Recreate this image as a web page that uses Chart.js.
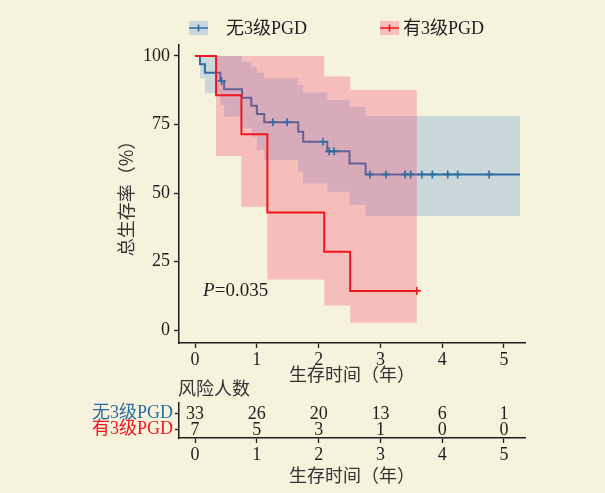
<!DOCTYPE html>
<html>
<head>
<meta charset="utf-8">
<script src="https://cdn.jsdelivr.net/npm/chart.js@4"></script>
<style>
  html, body { margin: 0; padding: 0; background: #f5f3dc; }
  #wrap { position: relative; width: 605px; height: 493px; overflow: hidden; }
  #km { position: absolute; left: 0; top: 0; }
  #risk { position: absolute; left: 0; top: 378px; }
</style>
</head>
<body>
<div id="wrap">
  <canvas id="km" width="605" height="385"></canvas>
  <canvas id="risk" width="605" height="115"></canvas>
</div>
<script>
// groups
const groups = ['无3级PGD', '有3级PGD'];

// no grade-3 PGD: step times (years), survival %, 95% CI
const blueTimes = [0, 0.08, 0.16, 0.41, 0.47, 0.76, 0.91, 1.0, 1.12, 1.67, 1.75, 2.14, 2.5, 2.76, 5.26];
const blueSurv  = [100, 97.0, 93.9, 90.9, 87.9, 84.8, 81.8, 78.8, 75.8, 72.4, 68.7, 65.2, 60.8, 56.8, 56.8];
const blueLower = [100, 91.9, 86.4, 82.1, 77.9, 73.6, 70.5, 65.7, 62.0, 57.8, 53.5, 50.5, 45.6, 41.6, 41.6];
const blueUpper = [100, 100, 100, 100, 100, 97.9, 96.1, 93.9, 91.8, 89.4, 86.7, 83.9, 81.5, 78.1, 78.1];
const blueCensorT = [0.43, 1.26, 1.49, 2.07, 2.17, 2.25, 2.83, 3.09, 3.4, 3.49, 3.67, 3.84, 4.09, 4.25, 4.76];
const blueCensorS = [90.9, 75.8, 75.8, 68.7, 65.2, 65.2, 56.8, 56.8, 56.8, 56.8, 56.8, 56.8, 56.8, 56.8, 56.8];

// grade-3 PGD
const redTimes = [0, 0.34, 0.75, 1.17, 2.09, 2.51, 3.59];
const redSurv  = [100, 85.7, 71.4, 42.9, 28.6, 14.3, 14.3];
const redLower = [100, 63.5, 45.0, 18.5, 9.0, 2.7, 2.7];
const redUpper = [100, 100, 100, 100, 92.5, 87.6, 87.6];
const redCensorT = [3.59];
const redCensorS = [14.3];

const xTicks = [0, 1, 2, 3, 4, 5];
const yTicks = [0, 25, 50, 75, 100];

// number at risk
const riskTimes = [0, 1, 2, 3, 4, 5];
const riskNo  = [33, 26, 20, 13, 6, 1];
const riskYes = [7, 5, 3, 1, 0, 0];

const pText = '=0.035';
const pPos = { x: 0.13, y: 14.3 };

const BLUE = '#2c6ca4';
const RED = '#f2141e';
const BLUE_FILL = 'rgba(80,135,215,0.26)';
const RED_FILL = 'rgba(245,70,110,0.30)';
const INK = '#1e1e1e';
const GREY = '#333333';
const SERIF = '"Liberation Serif", "Noto Sans CJK SC", serif';
const CJK = '"Noto Sans CJK SC", "Liberation Serif", sans-serif';
const CJK_TITLE = '"Noto Sans CJK KR", "Noto Sans CJK SC", sans-serif';

const pts = (xs, ys) => xs.map((x, i) => ({ x, y: ys[i] }));

function band(times, lo, hi, color, order) {
  return [
    { data: pts(times, lo), borderWidth: 0, pointRadius: 0, stepped: 'before', fill: false, order },
    { data: pts(times, hi), borderWidth: 0, pointRadius: 0, stepped: 'before', fill: '-1', backgroundColor: color, order }
  ];
}
function curve(times, surv, color, order) {
  return { data: pts(times, surv), borderColor: color, borderWidth: 2, pointRadius: 0, stepped: 'before', fill: false, order };
}
function censors(t, s, color) {
  return { data: pts(t, s), showLine: false, pointStyle: 'cross', pointRadius: 4, borderColor: color, borderWidth: 1.6, order: 1 };
}

const kmDecor = {
  id: 'kmDecor',
  afterDraw(chart) {
    const { ctx, scales: { x, y } } = chart;
    ctx.save();
    // legend
    const keys = [{ box: 189, text: 226, line: BLUE, fill: BLUE_FILL }, { box: 380, text: 403, line: RED, fill: RED_FILL }];
    keys.forEach((k, i) => {
      ctx.fillStyle = k.fill;
      ctx.fillRect(k.box, 21, 19, 14);
      ctx.strokeStyle = k.line;
      ctx.lineWidth = 1.6;
      ctx.beginPath();
      ctx.moveTo(k.box, 28); ctx.lineTo(k.box + 19, 28);
      ctx.moveTo(k.box + 9.5, 24.5); ctx.lineTo(k.box + 9.5, 31.5);
      ctx.stroke();
      ctx.fillStyle = INK;
      ctx.font = '18px ' + SERIF;
      ctx.textBaseline = 'middle';
      ctx.textAlign = 'left';
      ctx.fillText(groups[i], k.text, 29.5);
    });
    // p value
    const px = x.getPixelForValue(pPos.x), py = y.getPixelForValue(pPos.y);
    ctx.font = 'italic 19px ' + SERIF;
    ctx.fillStyle = INK;
    ctx.fillText('P', px, py);
    const w = ctx.measureText('P').width;
    ctx.font = '19px ' + SERIF;
    ctx.fillText(pText, px + w, py);
    ctx.restore();
  }
};

new Chart(document.getElementById('km'), {
  type: 'line',
  data: {
    datasets: [
      ...band(blueTimes, blueLower, blueUpper, BLUE_FILL, 10),
      curve(blueTimes, blueSurv, BLUE, 9),
      ...band(redTimes, redLower, redUpper, RED_FILL, 8),
      curve(redTimes, redSurv, RED, 7),
      censors(blueCensorT, blueCensorS, BLUE),
      censors(redCensorT, redCensorS, RED)
    ]
  },
  options: {
    responsive: false,
    animation: false,
    layout: { padding: { left: 115, top: 45, right: 80, bottom: 0 } },
    plugins: { legend: { display: false }, tooltip: { enabled: false } },
    scales: {
      x: {
        type: 'linear', min: -0.26, max: 5.34,
        afterBuildTicks: s => { s.ticks = xTicks.map(v => ({ value: v })); },
        afterFit: s => { s.height = 42; },
        grid: { drawOnChartArea: false, tickLength: 5, color: INK, tickWidth: 1.3 },
        border: { color: INK, width: 1.5 },
        ticks: { color: INK, font: { family: SERIF, size: 18 }, padding: 1, maxRotation: 0 },
        title: { display: true, text: '生存时间（年）', color: GREY, font: { family: CJK_TITLE, size: 18 }, padding: 0 }
      },
      y: {
        type: 'linear', min: -4.7, max: 104,
        afterBuildTicks: s => { s.ticks = yTicks.map(v => ({ value: v })); },
        afterFit: s => { s.width = 64; },
        grid: { drawOnChartArea: false, tickLength: 5, color: INK, tickWidth: 1.3 },
        border: { color: INK, width: 1.5 },
        ticks: { color: INK, font: { family: SERIF, size: 18 }, padding: 4 },
        title: { display: true, text: '总生存率（%）', color: GREY, font: { family: CJK_TITLE, size: 18 }, padding: 0 }
      }
    }
  },
  plugins: [kmDecor]
});

const riskDecor = {
  id: 'riskDecor',
  afterDraw(chart) {
    const { ctx, chartArea } = chart;
    ctx.save();
    ctx.font = '18px ' + CJK;
    ctx.fillStyle = GREY;
    ctx.textAlign = 'left';
    ctx.textBaseline = 'middle';
    ctx.fillText('风险人数', chartArea.left - 1, 10);
    ctx.font = '18px ' + SERIF;
    ctx.fillStyle = INK;
    ctx.textAlign = 'center';
    [riskNo, riskYes].forEach((vals, d) => {
      chart.getDatasetMeta(d).data.forEach((pt, i) => {
        ctx.fillText(String(vals[i]), pt.x, pt.y + 1);
      });
    });
    ctx.restore();
  }
};

new Chart(document.getElementById('risk'), {
  type: 'line',
  data: {
    datasets: [
      { data: pts(riskTimes, riskTimes.map(() => 2)), showLine: false, pointRadius: 0 },
      { data: pts(riskTimes, riskTimes.map(() => 1)), showLine: false, pointRadius: 0 }
    ]
  },
  options: {
    responsive: false,
    animation: false,
    layout: { padding: { left: 0, top: 25, right: 80, bottom: 0 } },
    plugins: { legend: { display: false }, tooltip: { enabled: false } },
    scales: {
      x: {
        type: 'linear', min: -0.26, max: 5.34,
        afterBuildTicks: s => { s.ticks = riskTimes.map(v => ({ value: v })); },
        afterFit: s => { s.height = 55; },
        grid: { drawOnChartArea: false, tickLength: 5, color: INK, tickWidth: 1.3 },
        border: { color: INK, width: 1.5 },
        ticks: { color: INK, font: { family: SERIF, size: 18 }, padding: 1, maxRotation: 0 },
        title: { display: true, text: '生存时间（年）', color: GREY, font: { family: CJK_TITLE, size: 18 }, padding: { top: 0, bottom: 7 } }
      },
      y: {
        type: 'linear', min: 0.5, max: 2.6,
        afterBuildTicks: s => { s.ticks = [{ value: 2 }, { value: 1 }]; },
        afterFit: s => { s.width = 179; },
        grid: { drawOnChartArea: false, tickLength: 4, color: INK, tickWidth: 1.3 },
        border: { color: INK, width: 1.5 },
        ticks: {
          font: { family: SERIF, size: 18 },
          padding: 2,
          color: c => (c.tick && c.tick.value === 2) ? BLUE : RED,
          callback: v => v === 2 ? groups[0] : groups[1]
        }
      }
    }
  },
  plugins: [riskDecor]
});
</script>
</body>
</html>
